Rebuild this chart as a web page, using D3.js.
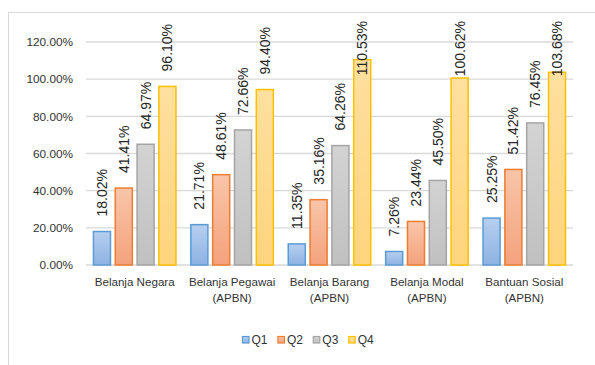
<!DOCTYPE html>
<html>
<head>
<meta charset="utf-8">
<script src="https://cdn.jsdelivr.net/npm/d3@7"></script>
<style>
  html, body { margin: 0; padding: 0; background: #ffffff; }
  svg { display: block; font-family: "Liberation Sans", Arial, sans-serif; }
</style>
</head>
<body>
<svg id="chart" width="595" height="365"></svg>
<script>
// Realisasi belanja per kuartal
const categories = [
  ["Belanja Negara"],
  ["Belanja Pegawai", "(APBN)"],
  ["Belanja Barang", "(APBN)"],
  ["Belanja Modal", "(APBN)"],
  ["Bantuan Sosial", "(APBN)"]
];
const seriesNames = ["Q1", "Q2", "Q3", "Q4"];
const q1 = [18.02, 21.71, 11.35, 7.26, 25.25];
const q2 = [41.41, 48.61, 35.16, 23.44, 51.42];
const q3 = [64.97, 72.66, 64.26, 45.50, 76.45];
const q4 = [96.10, 94.40, 110.53, 100.62, 103.68];
const seriesValues = [q1, q2, q3, q4];
const yTicks = [0, 20, 40, 60, 80, 100, 120];

const palette = [
  { top: "#b7cff0", bottom: "#8db2e2", stroke: "#5b9bd5" },
  { top: "#f8c5a9", bottom: "#f4a27c", stroke: "#ed7d31" },
  { top: "#d3d3d3", bottom: "#c0c0c0", stroke: "#a5a5a5" },
  { top: "#ffe09f", bottom: "#ffd47c", stroke: "#ffc000" }
];

const svg = d3.select("#chart");
const plot = { left: 86, right: 573, top: 42, bottom: 265 };

// Outer chart frame (continues past the visible page edge)
svg.append("rect")
  .attr("x", 8.5).attr("y", 12.5)
  .attr("width", 640).attr("height", 400)
  .attr("fill", "#ffffff")
  .attr("stroke", "#d9d9d9").attr("stroke-width", 1);

const defs = svg.append("defs");
palette.forEach((p, i) => {
  const g = defs.append("linearGradient")
    .attr("id", "grad" + i)
    .attr("x1", 0).attr("y1", 0).attr("x2", 0).attr("y2", 1);
  g.append("stop").attr("offset", "0%").attr("stop-color", p.top);
  g.append("stop").attr("offset", "100%").attr("stop-color", p.bottom);
});

const x0 = d3.scaleBand()
  .domain(d3.range(categories.length))
  .range([plot.left, plot.right])
  .paddingInner(0).paddingOuter(0);

const x1 = d3.scaleBand()
  .domain(d3.range(seriesNames.length))
  .range([0, 84])
  .paddingInner(0.15);

const y = d3.scaleLinear()
  .domain([0, 120])
  .range([plot.bottom, plot.top]);

// Gridlines
svg.append("g")
  .selectAll("line")
  .data(yTicks)
  .join("line")
  .attr("x1", plot.left).attr("x2", plot.right)
  .attr("y1", d => y(d)).attr("y2", d => y(d))
  .attr("stroke", "#d9d9d9").attr("stroke-width", 1.3);

// Y axis labels
const yAxis = d3.axisLeft(y)
  .tickValues(yTicks)
  .tickSize(0)
  .tickPadding(0)
  .tickFormat(d => d.toFixed(2) + "%");
svg.append("g")
  .attr("transform", `translate(${plot.left - 13},0)`)
  .call(yAxis)
  .call(g => g.select(".domain").remove())
  .call(g => g.selectAll("text")
    .attr("font-size", "11.8px")
    .attr("fill", "#333333")
    .attr("font-family", "Liberation Sans, Arial, sans-serif"));

// Bars
const groupOffset = (x0.bandwidth() - 84) / 2;
const groups = svg.append("g")
  .selectAll("g")
  .data(categories)
  .join("g")
  .attr("transform", (d, i) => `translate(${x0(i) + groupOffset},0)`);

const barWidth = x1.bandwidth();
groups.each(function(cat, ci) {
  const g = d3.select(this);
  seriesValues.forEach((vals, si) => {
    const v = vals[ci];
    g.append("rect")
      .attr("x", x1(si) + 0.75)
      .attr("y", y(v))
      .attr("width", barWidth - 1.5)
      .attr("height", y(0) - y(v))
      .attr("fill", `url(#grad${si})`)
      .attr("stroke", palette[si].stroke)
      .attr("stroke-width", 1.5);

    // Rotated value labels; kept inside the top of the chart
    const cx = x1(si) + barWidth / 2;
    const label = g.append("text")
      .attr("text-anchor", "start")
      .attr("font-size", "14px")
      .attr("fill", "#262626")
      .text(v.toFixed(2) + "%");
    const len = label.node().getComputedTextLength();
    let end = y(v) - 15;
    if (end - len < 21) end = 21 + len;
    label.attr("transform", `translate(${cx + 5},${end}) rotate(-90)`);
  });
});

// Category labels
const catLabels = svg.append("g");
categories.forEach((lines, i) => {
  const t = catLabels.append("text")
    .attr("x", x0(i) + x0.bandwidth() / 2)
    .attr("y", 286)
    .attr("text-anchor", "middle")
    .attr("font-size", "11.6px")
    .attr("fill", "#333333");
  lines.forEach((ln, li) => {
    t.append("tspan")
      .attr("x", x0(i) + x0.bandwidth() / 2)
      .attr("dy", li === 0 ? 0 : 16)
      .text(ln);
  });
});

// Legend
const legend = svg.append("g").attr("transform", "translate(242.5,336.5)");
seriesNames.forEach((name, i) => {
  const item = legend.append("g").attr("transform", `translate(${i * 35.4},0)`);
  item.append("rect")
    .attr("width", 6.5).attr("height", 6.5)
    .attr("fill", `url(#grad${i})`)
    .attr("stroke", palette[i].stroke)
    .attr("stroke-width", 1.2);
  item.append("text")
    .attr("x", 9).attr("y", 7.4)
    .attr("font-size", "12px")
    .attr("fill", "#333333")
    .text(name);
});
</script>
</body>
</html>
